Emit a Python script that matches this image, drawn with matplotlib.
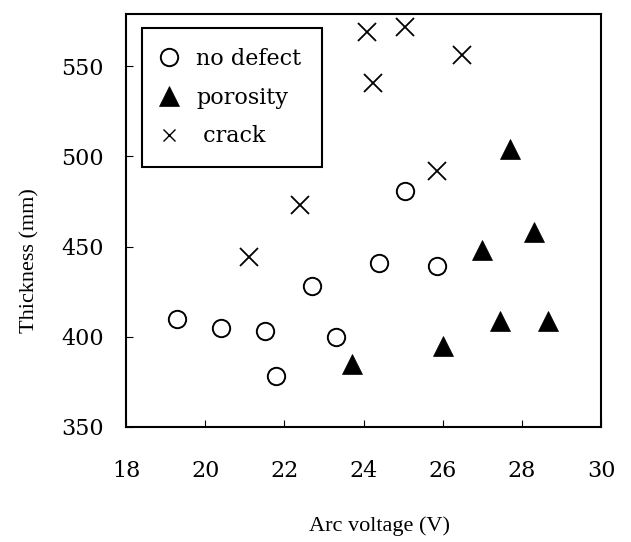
import matplotlib
matplotlib.use("Agg")
import matplotlib.pyplot as plt

# values
no_defect_x = [19.3, 20.4, 21.5, 21.8, 22.7, 23.3, 24.4, 25.05, 25.85]
no_defect_y = [410, 405, 403, 378, 428, 400, 441, 481, 439]

porosity_x = [23.7, 26.0, 27.0, 27.45, 27.7, 28.3, 28.65]
porosity_y = [385, 395, 448, 409, 504, 458, 409]

crack_x = [21.1, 22.4, 24.1, 24.25, 25.05, 25.85, 26.5]
crack_y = [444, 473, 569, 541, 572, 492, 556]

x_ticks = [18, 20, 22, 24, 26, 28, 30]
y_ticks = [350, 400, 450, 500, 550]


def main():

    fig = plt.figure(figsize=(6.31, 5.42), dpi=100)
    ax = fig.add_axes([0.1997, 0.2122, 0.7528, 0.7620])

    ax.plot(no_defect_x, no_defect_y, linestyle="none", marker="o",
            markersize=12.5, markerfacecolor="white", markeredgecolor="black",
            markeredgewidth=1.4, label="no defect")

    ax.plot(porosity_x, porosity_y, linestyle="none", marker="^",
            markersize=14, color="black", markeredgewidth=0.5,
            label="porosity")

    ax.plot(crack_x, crack_y, linestyle="none", marker="x",
            markersize=13.5, color="black", markeredgewidth=1.3,
            label=" crack")

    ax.set_xlim(18, 30)
    ax.set_ylim(350, 579)
    ax.set_xticks(x_ticks)
    ax.set_yticks(y_ticks)

    tick_font = {"family": "DejaVu Serif", "size": 16}
    ax.set_xticklabels([str(t) for t in x_ticks], fontdict=tick_font)
    ax.set_yticklabels([str(t) for t in y_ticks], fontdict=tick_font)

    ax.tick_params(axis="both", direction="in", length=5, width=0.8)
    ax.tick_params(axis="x", pad=24)
    ax.tick_params(axis="y", pad=16)

    for spine in ax.spines.values():
        spine.set_linewidth(1.5)

    ax.set_xlabel("Arc voltage (V)", family="Liberation Serif", fontsize=16)
    ax.set_ylabel("Thickness (mm)", family="Liberation Serif", fontsize=16)
    ax.xaxis.set_label_coords(0.533, -0.215)
    ax.yaxis.set_label_coords(-0.183, 0.404)

    leg = ax.legend(loc="upper left",
                    bbox_to_anchor=(0.0337, 0.5, 0.379, 0.466),
                    mode="expand", borderaxespad=0,
                    prop={"family": "DejaVu Serif", "size": 16},
                    fancybox=False, frameon=True, framealpha=1,
                    edgecolor="black", handlelength=0.6,
                    handletextpad=0.95, borderpad=0.9, labelspacing=0.75)
    leg.get_frame().set_linewidth(1.5)
    leg.legend_handles[2].set_markersize(9)
    leg.legend_handles[2].set_markeredgewidth(1.0)

    fig.savefig("out.png", dpi=100)


if __name__ == "__main__":
    main()
